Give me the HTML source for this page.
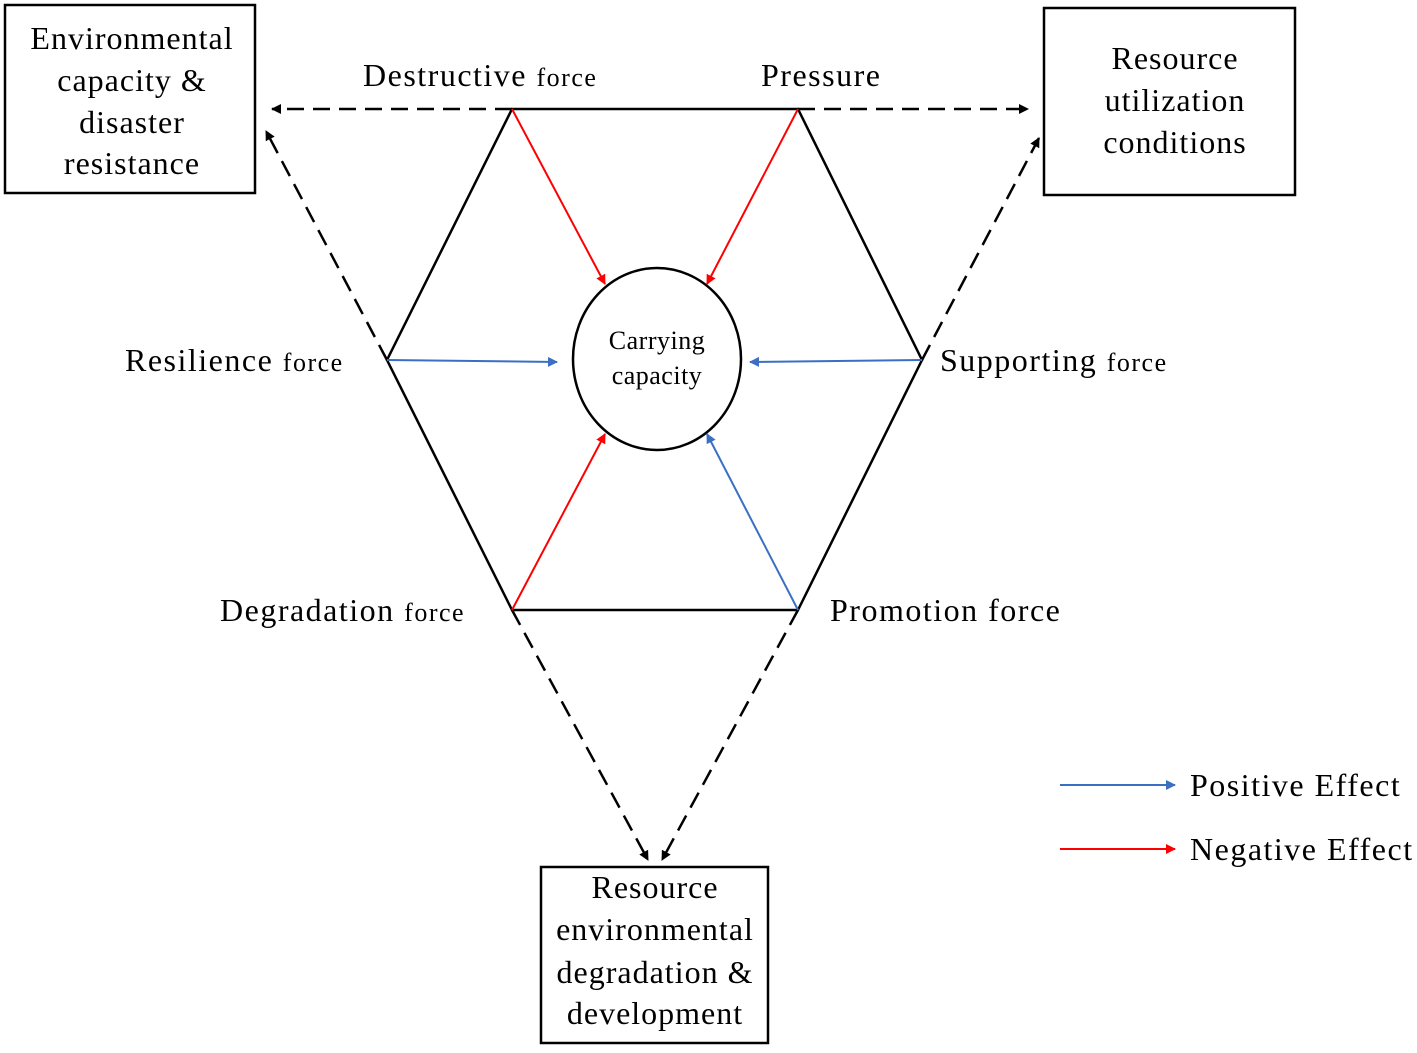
<!DOCTYPE html>
<html><head><meta charset="utf-8"><style>
html,body{margin:0;padding:0;background:#fff;}
svg text{font-family:"Liberation Serif",serif;fill:#000;}
</style></head><body>
<svg width="1417" height="1048" viewBox="0 0 1417 1048" xmlns="http://www.w3.org/2000/svg">
<defs>
<marker id="ak" markerWidth="10" markerHeight="10" refX="9" refY="5" orient="auto" markerUnits="userSpaceOnUse"><path d="M0,0 L10,5 L0,10 z" fill="#000"/></marker>
<marker id="ar" markerWidth="10" markerHeight="10" refX="9" refY="5" orient="auto" markerUnits="userSpaceOnUse"><path d="M0,0 L10,5 L0,10 z" fill="#f00"/></marker>
<marker id="ab" markerWidth="10" markerHeight="10" refX="9" refY="5" orient="auto" markerUnits="userSpaceOnUse"><path d="M0,0 L10,5 L0,10 z" fill="#3a6fc4"/></marker>
</defs>
<g fill="none" stroke="#000" stroke-width="2.5">
<rect x="5" y="5" width="250" height="188"/>
<rect x="1044" y="8" width="251" height="187"/>
<rect x="541" y="867" width="227" height="176"/>
<polygon points="512,109 798,109 922,360 798,610 512,610 387,360"/>
<ellipse cx="657" cy="359" rx="84" ry="91"/>
</g>
<g fill="none" stroke="#000" stroke-width="2.5" stroke-dasharray="17,9" marker-end="url(#ak)">
<line x1="512" y1="109" x2="272" y2="109"/>
<line x1="798" y1="109" x2="1028" y2="109"/>
<line x1="387" y1="360" x2="266" y2="131"/>
<line x1="922" y1="360" x2="1039" y2="138"/>
<line x1="512" y1="610" x2="648" y2="860"/>
<line x1="798" y1="610" x2="662" y2="860"/>
</g>
<g fill="none" stroke-width="2">
<line x1="512" y1="109" x2="605" y2="284" stroke="#f00" marker-end="url(#ar)"/>
<line x1="798" y1="109" x2="707" y2="284" stroke="#f00" marker-end="url(#ar)"/>
<line x1="512" y1="610" x2="605" y2="434" stroke="#f00" marker-end="url(#ar)"/>
<line x1="798" y1="610" x2="707" y2="434" stroke="#3a6fc4" marker-end="url(#ab)"/>
<line x1="387" y1="360" x2="557" y2="362" stroke="#3a6fc4" marker-end="url(#ab)"/>
<line x1="922" y1="360" x2="750" y2="362" stroke="#3a6fc4" marker-end="url(#ab)"/>
<line x1="1060" y1="785" x2="1175" y2="785" stroke="#3a6fc4" marker-end="url(#ab)"/>
<line x1="1060" y1="849" x2="1175" y2="849" stroke="#f00" marker-end="url(#ar)"/>
</g>
<g font-size="32" text-anchor="middle" letter-spacing="1">
<text x="132" y="49">Environmental</text>
<text x="132" y="91">capacity  &amp;</text>
<text x="132" y="133">disaster</text>
<text x="132" y="174">resistance</text>
<text x="1175" y="69">Resource</text>
<text x="1175" y="111">utilization</text>
<text x="1175" y="153">conditions</text>
<text x="655" y="898">Resource</text>
<text x="655" y="940">environmental</text>
<text x="655" y="983">degradation  &amp;</text>
<text x="655" y="1024">development</text>
<text x="657" y="349" font-size="26" letter-spacing="0.5">Carrying</text>
<text x="657" y="384" font-size="26" letter-spacing="0.5">capacity</text>
</g>
<g font-size="32" letter-spacing="1.5">
<text x="363" y="86">Destructive <tspan font-size="26">force</tspan></text>
<text x="761" y="86">Pressure</text>
<text x="125" y="371">Resilience <tspan font-size="26">force</tspan></text>
<text x="940" y="371">Supporting <tspan font-size="26">force</tspan></text>
<text x="220" y="621">Degradation <tspan font-size="26">force</tspan></text>
<text x="830" y="621">Promotion force</text>
<text x="1190" y="796">Positive Effect</text>
<text x="1190" y="860">Negative Effect</text>
</g>
</svg>
</body></html>
